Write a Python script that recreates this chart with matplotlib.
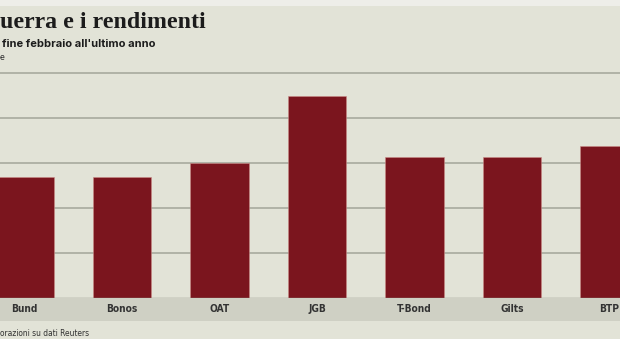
import matplotlib
matplotlib.use("Agg")
import matplotlib.pyplot as plt
from matplotlib.patches import Rectangle

# dati (unità = passo della griglia)
titoli = ["Bund", "Bonos", "OAT", "JGB", "T-Bond", "Gilts", "BTP"]
valori = [2.69, 2.69, 3.0, 4.49, 3.13, 3.13, 3.37]
griglia = [1, 2, 3, 4, 5]

sfondo = "#e2e3d7"
banda = "#cfd0c4"
rosso = "#7b151e"

W, H = 620, 339
fig = plt.figure(figsize=(W / 100, H / 100), dpi=100)
fig.patch.set_facecolor(sfondo)

# striscia chiara in alto
fig.patches.append(Rectangle((0, 1 - 6 / H), 1, 6 / H, transform=fig.transFigure,
                             facecolor="#eeeee9", edgecolor="none", zorder=-5))
# banda delle etichette
fig.patches.append(Rectangle((0, 1 - 321 / H), 1, 23 / H, transform=fig.transFigure,
                             facecolor=banda, edgecolor="none", zorder=-5))

ax = fig.add_axes([0, (H - 298) / H, 1, (298 - 65) / H])
ax.set_facecolor("none")
ax.set_zorder(2)
x = list(range(len(titoli)))
ax.bar(x, valori, width=0.6, color=rosso, edgecolor="#c98a86", linewidth=0.4, zorder=3)
for g in griglia:
    ax.axhline(g, color="#a3a599", linewidth=1.1, zorder=1)
ax.axhline(0, color="#8f9185", linewidth=1.0, zorder=4)
ax.set_xlim(-24.5 / 97.5, (W - 24.5) / 97.5)
ax.set_ylim(0, 233 / 45)
ax.set_xticks([])
ax.set_yticks([])
for s in ax.spines.values():
    s.set_visible(False)

for xi, t in zip(x, titoli):
    ax.text(xi, -11 / 45, t, ha="center", va="center", fontsize=7.3,
            fontweight="bold", fontstretch="condensed", color="#333333",
            family="DejaVu Sans", clip_on=False)

fig.text(0, 1 - 22 / H, "uerra e i rendimenti", ha="left", va="center",
         fontsize=17.2, fontweight="bold", family="Liberation Serif", color="#1c1c1c")
fig.text(2 / W, 1 - 44 / H, "fine febbraio all'ultimo anno", ha="left", va="center",
         fontsize=8, fontweight="bold", family="Inter", color="#1c1c1c")
fig.text(0, 1 - 58 / H, "e", ha="left", va="center", fontsize=6.5,
         family="Roboto", color="#333333")
fig.text(0, 1 - 333 / H, "orazioni su dati Reuters", ha="left", va="center",
         fontsize=6, fontstretch="condensed", family="DejaVu Sans", color="#333333")

fig.savefig("out.png", dpi=100, facecolor=fig.get_facecolor())
